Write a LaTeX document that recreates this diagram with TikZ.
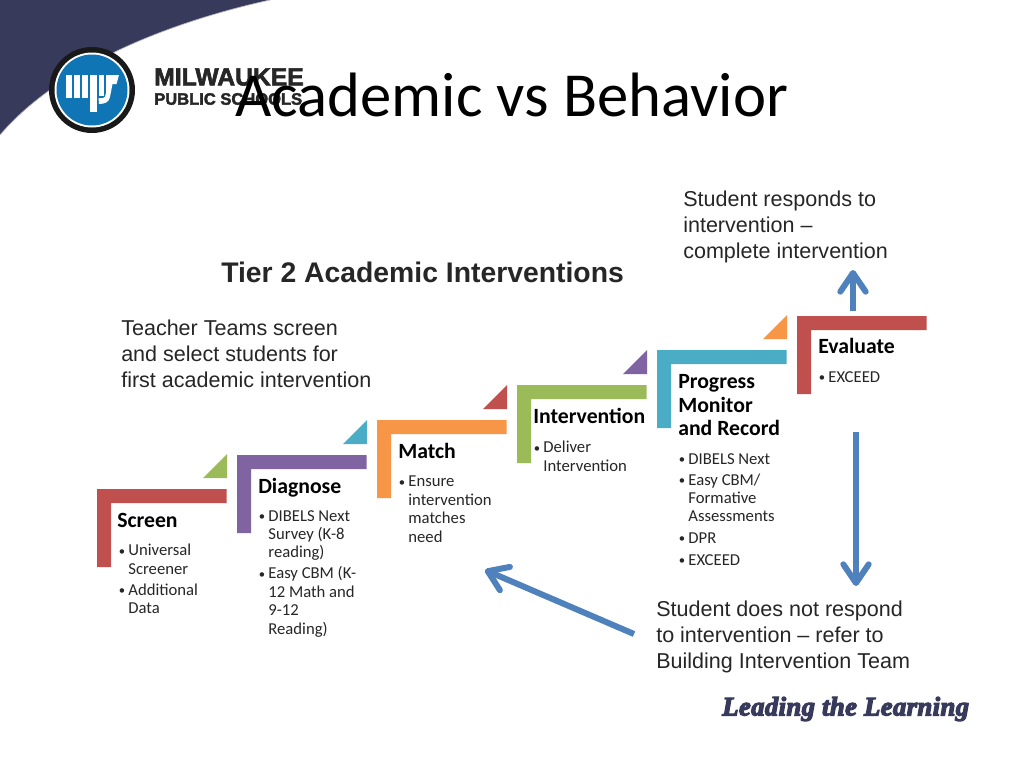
\documentclass[tikz,border=0pt]{standalone}
\usepackage{fontspec}
\setmainfont{Carlito}
\newfontfamily\arialf{Liberation Sans}
\newfontfamily\heavyf[FakeBold=2.5]{Liberation Sans Bold}
\newfontfamily\leadf[FakeBold=4.5,LetterSpace=1.5]{Liberation Serif Bold Italic}
\usetikzlibrary{arrows.meta}
\definecolor{navy}{HTML}{383A5C}
\definecolor{cred}{HTML}{C0504D}
\definecolor{cgreen}{HTML}{9BBB59}
\definecolor{cpurple}{HTML}{8064A2}
\definecolor{cblue}{HTML}{4BACC6}
\definecolor{corange}{HTML}{F79646}
\definecolor{arrowblue}{HTML}{4F81BD}
\definecolor{logoblue}{HTML}{0F75B5}
\definecolor{txt}{HTML}{262626}
\newcommand{\stepshape}[3]{% x,y,colour
  \fill[#3] (#1,#2) -- ++(129.5,0) -- ++(0,14) -- ++(-115.5,0) -- ++(0,64) -- ++(-14,0) -- cycle;}
\newcommand{\tri}[3]{\fill[#3] (#1,#2) -- ++(24,0) -- ++(0,-24) -- cycle;}
\tikzset{
  x=0.75pt,y=-0.75pt,
  headtxt/.style={anchor=north west,inner sep=0,font=\fontsize{16.3}{17.8}\selectfont\bfseries,text=black,align=left},
  bodytxt/.style={anchor=north west,inner sep=0,font=\fontsize{12.5}{13.8}\selectfont,text=txt,align=left},
  notetxt/.style={anchor=north west,inner sep=0,font=\arialf\fontsize{16.15}{19.3}\selectfont,text=txt,align=left},
  bigarrow/.style={draw=arrowblue,line width=4.5pt,-{Straight Barb[round,length=14pt,width=19pt,line width=4.5pt]}},
}
\newcommand{\bul}{\makebox[7.6pt][l]{\hspace{0.4pt}\raisebox{0.6pt}{\fontsize{9.5}{10}\selectfont\textbullet}}}
\newcommand{\hng}{\hspace*{7.6pt}}
\begin{document}
\begin{tikzpicture}
\useasboundingbox (0,0) rectangle (1024,768);
\fill[white] (0,0) rectangle (1024,768);
% swoosh
\fill[navy] (0,0) -- (270,0) .. controls (170,22) and (60,65) .. (0,135) -- cycle;
\draw[color=navy!35!white,line width=0.5pt] (270,0) .. controls (170,22) and (60,65) .. (0,135);
% logo
\fill[black!90] (92,90) circle (43);
\fill[white] (92,90) circle (37.5);
\fill[logoblue] (92,90) circle (35.5);
\fill[white] (66,75) rectangle (72,98);
\fill[white] (74,75) rectangle (80,98);
\fill[white] (82,75) rectangle (88,98);
\fill[white] (89.5,75) rectangle (97,112);
\fill[white] (98.5,75) rectangle (104,96);
\fill[white] (106,75) -- (119,75) -- (116.5,84) -- (112.5,84) -- (110,97) .. controls (109,102) and (105,104) .. (99,104) -- (98.5,98) -- (103,98) .. controls (105,98) and (105.5,96) .. (106,93) -- cycle;
\node[anchor=west,inner sep=0,font=\heavyf\fontsize{18.5}{20}\selectfont,text=black!85] (mil) at (154,77) {MILWAUKEE};
\node[anchor=west,inner sep=0,font=\heavyf\fontsize{12.4}{15}\selectfont,text=black!85] (pub) at (154,99) {PUBLIC SCHOOLS};
% title
\node[anchor=base west,inner sep=0,font=\fontsize{47}{52}\selectfont,text=black] (title) at (235,116) {Academic vs Behavior};
\node[anchor=west,inner sep=0,font=\arialf\bfseries\fontsize{21.25}{25}\selectfont,text=txt] (tier) at (221,272) {Tier 2 Academic Interventions};
% steps
\stepshape{97}{489}{cred}
\stepshape{237}{455}{cpurple}
\stepshape{377}{420}{corange}
\stepshape{517}{385}{cgreen}
\stepshape{657}{350}{cblue}
\stepshape{797}{316}{cred}
\tri{203}{478}{cgreen}
\tri{343}{444}{cblue}
\tri{483}{409}{cred}
\tri{623}{374}{cpurple}
\tri{763}{339}{corange}
% headings
\node[headtxt] (screen) at (117,513) {Screen};
\node[headtxt] (diag) at (258,478) {Diagnose};
\node[headtxt] (match) at (398,443) {Match};
\node[headtxt] (interv) at (533,408) {Intervention};
\node[headtxt] (prog) at (678,374) {Progress\\Monitor\\and Record};
\node[headtxt] (eval) at (818,338) {Evaluate};
% bullets
\node[bodytxt] (b1) at (118,544) {\bul Universal\\\hng Screener\\[2pt]\bul Additional\\\hng Data};
\node[bodytxt] (b2) at (258,510) {\bul DIBELS Next\\\hng Survey (K-8\\\hng reading)\\[2pt]\bul Easy CBM (K-\\\hng 12 Math and\\\hng 9-12\\\hng Reading)};
\node[bodytxt] (b3) at (398,476) {\bul Ensure\\\hng intervention\\\hng matches\\\hng need};
\node[bodytxt] (b4) at (533,441) {\bul Deliver\\\hng Intervention};
\node[bodytxt] (b5) at (678,453) {\bul DIBELS Next\\[2pt]\bul Easy CBM/\\\hng Formative\\\hng Assessments\\[2.5pt]\bul DPR\\[2.5pt]\bul EXCEED};
\node[bodytxt] (b6) at (818,371) {\bul EXCEED};
% notes
\node[notetxt] (n1) at (121,320) {Teacher Teams screen\\and select students for\\first academic intervention};
\node[notetxt] (n2) at (683,191) {Student responds to\\intervention –\\complete intervention};
\node[notetxt] (n3) at (656,601) {Student does not respond\\to intervention – refer to\\Building Intervention Team};
% arrows
\coordinate (upstart) at (853,311);
\coordinate (upend) at (853,270);
\coordinate (downstart) at (856,432);
\coordinate (downend) at (856,586);
\coordinate (diagstart) at (634,634);
\coordinate (diagend) at (485,570);
\draw[bigarrow] (upstart) -- (upend);
\draw[bigarrow] (downstart) -- (downend);
\draw[bigarrow] (diagstart) -- (diagend);
% footer
\node[anchor=west,inner sep=0,font=\leadf\fontsize{20}{22}\selectfont,text=navy] (lead) at (722,709) {Leading the Learning};
\end{tikzpicture}
\end{document}
